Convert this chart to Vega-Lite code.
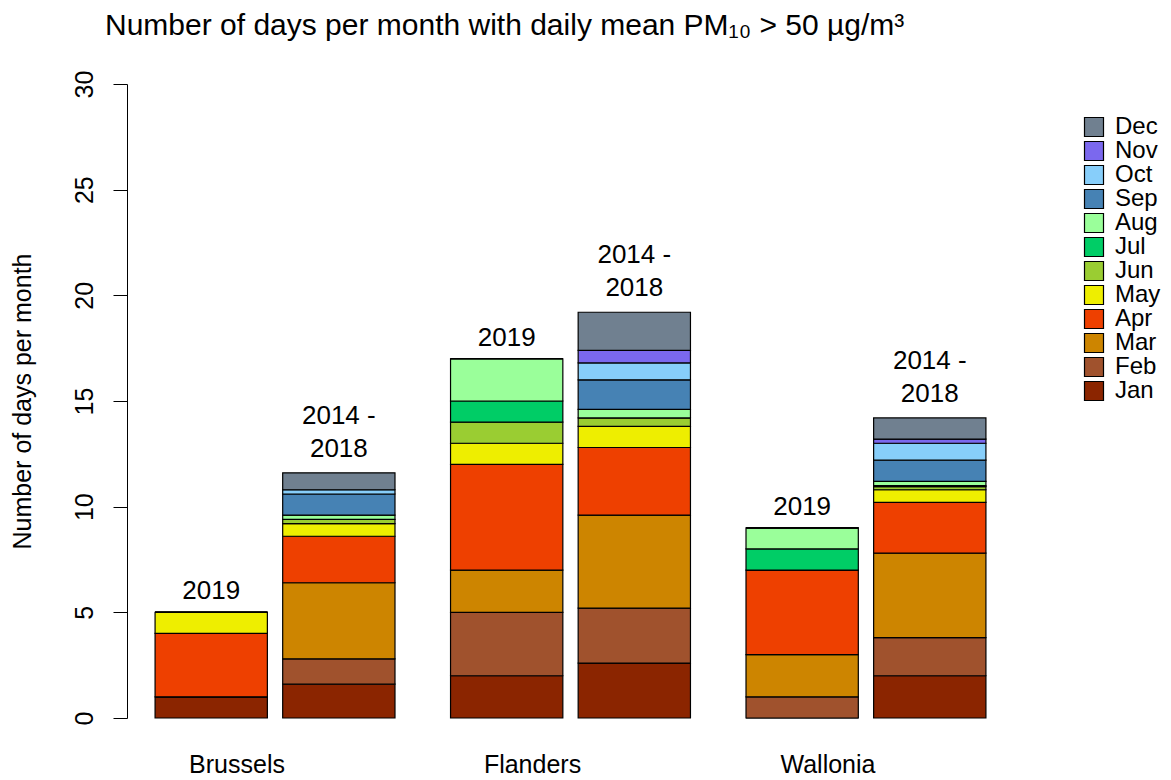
{
  "$schema": "https://vega.github.io/schema/vega-lite/v6.json",
  "width": 887,
  "height": 634,
  "autosize": "none",
  "padding": {"left": 127, "top": 84, "right": 157, "bottom": 62},
  "background": "white",
  "config": {"view": {"stroke": null}, "font": "Liberation Sans"},
  "title": {
    "text": "Number of days per month with daily mean PM₁₀ > 50 µg/m³",
    "anchor": "start",
    "frame": "group",
    "dx": -22,
    "offset": 5,
    "baseline": "alphabetic",
    "fontSize": 30,
    "font": "Liberation Sans",
    "fontWeight": "normal",
    "color": "#000"
  },
  "data": {
    "values": [
      {"region": "Brussels", "period": "2019", "month": "Jan", "m": 1, "days": 1},
      {"region": "Brussels", "period": "2019", "month": "Feb", "m": 2, "days": 0},
      {"region": "Brussels", "period": "2019", "month": "Mar", "m": 3, "days": 0},
      {"region": "Brussels", "period": "2019", "month": "Apr", "m": 4, "days": 3},
      {"region": "Brussels", "period": "2019", "month": "May", "m": 5, "days": 1},
      {"region": "Brussels", "period": "2019", "month": "Jun", "m": 6, "days": 0},
      {"region": "Brussels", "period": "2019", "month": "Jul", "m": 7, "days": 0},
      {"region": "Brussels", "period": "2019", "month": "Aug", "m": 8, "days": 0},
      {"region": "Brussels", "period": "2019", "month": "Sep", "m": 9, "days": 0},
      {"region": "Brussels", "period": "2019", "month": "Oct", "m": 10, "days": 0},
      {"region": "Brussels", "period": "2019", "month": "Nov", "m": 11, "days": 0},
      {"region": "Brussels", "period": "2019", "month": "Dec", "m": 12, "days": 0},
      {"region": "Brussels", "period": "2014 -\n2018", "month": "Jan", "m": 1, "days": 1.6},
      {"region": "Brussels", "period": "2014 -\n2018", "month": "Feb", "m": 2, "days": 1.2},
      {"region": "Brussels", "period": "2014 -\n2018", "month": "Mar", "m": 3, "days": 3.6},
      {"region": "Brussels", "period": "2014 -\n2018", "month": "Apr", "m": 4, "days": 2.2},
      {"region": "Brussels", "period": "2014 -\n2018", "month": "May", "m": 5, "days": 0.6},
      {"region": "Brussels", "period": "2014 -\n2018", "month": "Jun", "m": 6, "days": 0.2},
      {"region": "Brussels", "period": "2014 -\n2018", "month": "Jul", "m": 7, "days": 0},
      {"region": "Brussels", "period": "2014 -\n2018", "month": "Aug", "m": 8, "days": 0.2},
      {"region": "Brussels", "period": "2014 -\n2018", "month": "Sep", "m": 9, "days": 1.0},
      {"region": "Brussels", "period": "2014 -\n2018", "month": "Oct", "m": 10, "days": 0.2},
      {"region": "Brussels", "period": "2014 -\n2018", "month": "Nov", "m": 11, "days": 0},
      {"region": "Brussels", "period": "2014 -\n2018", "month": "Dec", "m": 12, "days": 0.8},
      {"region": "Flanders", "period": "2019", "month": "Jan", "m": 1, "days": 2},
      {"region": "Flanders", "period": "2019", "month": "Feb", "m": 2, "days": 3},
      {"region": "Flanders", "period": "2019", "month": "Mar", "m": 3, "days": 2},
      {"region": "Flanders", "period": "2019", "month": "Apr", "m": 4, "days": 5},
      {"region": "Flanders", "period": "2019", "month": "May", "m": 5, "days": 1},
      {"region": "Flanders", "period": "2019", "month": "Jun", "m": 6, "days": 1},
      {"region": "Flanders", "period": "2019", "month": "Jul", "m": 7, "days": 1},
      {"region": "Flanders", "period": "2019", "month": "Aug", "m": 8, "days": 2},
      {"region": "Flanders", "period": "2019", "month": "Sep", "m": 9, "days": 0},
      {"region": "Flanders", "period": "2019", "month": "Oct", "m": 10, "days": 0},
      {"region": "Flanders", "period": "2019", "month": "Nov", "m": 11, "days": 0},
      {"region": "Flanders", "period": "2019", "month": "Dec", "m": 12, "days": 0},
      {"region": "Flanders", "period": "2014 -\n2018", "month": "Jan", "m": 1, "days": 2.6},
      {"region": "Flanders", "period": "2014 -\n2018", "month": "Feb", "m": 2, "days": 2.6},
      {"region": "Flanders", "period": "2014 -\n2018", "month": "Mar", "m": 3, "days": 4.4},
      {"region": "Flanders", "period": "2014 -\n2018", "month": "Apr", "m": 4, "days": 3.2},
      {"region": "Flanders", "period": "2014 -\n2018", "month": "May", "m": 5, "days": 1.0},
      {"region": "Flanders", "period": "2014 -\n2018", "month": "Jun", "m": 6, "days": 0.4},
      {"region": "Flanders", "period": "2014 -\n2018", "month": "Jul", "m": 7, "days": 0},
      {"region": "Flanders", "period": "2014 -\n2018", "month": "Aug", "m": 8, "days": 0.4},
      {"region": "Flanders", "period": "2014 -\n2018", "month": "Sep", "m": 9, "days": 1.4},
      {"region": "Flanders", "period": "2014 -\n2018", "month": "Oct", "m": 10, "days": 0.8},
      {"region": "Flanders", "period": "2014 -\n2018", "month": "Nov", "m": 11, "days": 0.6},
      {"region": "Flanders", "period": "2014 -\n2018", "month": "Dec", "m": 12, "days": 1.8},
      {"region": "Wallonia", "period": "2019", "month": "Jan", "m": 1, "days": 0},
      {"region": "Wallonia", "period": "2019", "month": "Feb", "m": 2, "days": 1},
      {"region": "Wallonia", "period": "2019", "month": "Mar", "m": 3, "days": 2},
      {"region": "Wallonia", "period": "2019", "month": "Apr", "m": 4, "days": 4},
      {"region": "Wallonia", "period": "2019", "month": "May", "m": 5, "days": 0},
      {"region": "Wallonia", "period": "2019", "month": "Jun", "m": 6, "days": 0},
      {"region": "Wallonia", "period": "2019", "month": "Jul", "m": 7, "days": 1},
      {"region": "Wallonia", "period": "2019", "month": "Aug", "m": 8, "days": 1},
      {"region": "Wallonia", "period": "2019", "month": "Sep", "m": 9, "days": 0},
      {"region": "Wallonia", "period": "2019", "month": "Oct", "m": 10, "days": 0},
      {"region": "Wallonia", "period": "2019", "month": "Nov", "m": 11, "days": 0},
      {"region": "Wallonia", "period": "2019", "month": "Dec", "m": 12, "days": 0},
      {"region": "Wallonia", "period": "2014 -\n2018", "month": "Jan", "m": 1, "days": 2.0},
      {"region": "Wallonia", "period": "2014 -\n2018", "month": "Feb", "m": 2, "days": 1.8},
      {"region": "Wallonia", "period": "2014 -\n2018", "month": "Mar", "m": 3, "days": 4.0},
      {"region": "Wallonia", "period": "2014 -\n2018", "month": "Apr", "m": 4, "days": 2.4},
      {"region": "Wallonia", "period": "2014 -\n2018", "month": "May", "m": 5, "days": 0.6},
      {"region": "Wallonia", "period": "2014 -\n2018", "month": "Jun", "m": 6, "days": 0.15},
      {"region": "Wallonia", "period": "2014 -\n2018", "month": "Jul", "m": 7, "days": 0.05},
      {"region": "Wallonia", "period": "2014 -\n2018", "month": "Aug", "m": 8, "days": 0.2},
      {"region": "Wallonia", "period": "2014 -\n2018", "month": "Sep", "m": 9, "days": 1.0},
      {"region": "Wallonia", "period": "2014 -\n2018", "month": "Oct", "m": 10, "days": 0.8},
      {"region": "Wallonia", "period": "2014 -\n2018", "month": "Nov", "m": 11, "days": 0.2},
      {"region": "Wallonia", "period": "2014 -\n2018", "month": "Dec", "m": 12, "days": 1.0}
    ]
  },
  "encoding": {
    "x": {
      "field": "region",
      "type": "nominal",
      "sort": ["Brussels", "Flanders", "Wallonia"],
      "scale": {"paddingInner": 0.188, "paddingOuter": 0.095},
      "axis": {
        "title": null,
        "domain": false,
        "ticks": false,
        "tickSize": 0,
        "labelAngle": 0,
        "labelOffset": -38,
        "labelPadding": 54,
        "labelBaseline": "alphabetic",
        "labelFontSize": 25,
        "labelFont": "Liberation Sans",
        "labelColor": "#000"
      }
    },
    "xOffset": {
      "field": "period",
      "type": "nominal",
      "sort": ["2019", "2014 -\n2018"],
      "scale": {"paddingInner": 0.12, "paddingOuter": 0}
    }
  },
  "layer": [
    {
      "mark": {"type": "bar", "stroke": "#000", "strokeWidth": 1.2, "opacity": 1},
      "encoding": {
        "y": {
          "field": "days",
          "type": "quantitative",
          "stack": "zero",
          "scale": {"domain": [0, 30], "nice": false},
          "axis": {
            "title": "Number of days per month",
            "titleFontSize": 25,
            "titleFont": "Liberation Sans",
            "titleFontWeight": "normal",
            "titleColor": "#000",
            "titlePadding": 37,
            "values": [0, 5, 10, 15, 20, 25, 30],
            "labelAngle": -90,
            "labelFontSize": 25,
            "labelFont": "Liberation Sans",
            "labelColor": "#000",
            "labelPadding": 16,
            "tickSize": 14,
            "tickColor": "#000",
            "domainColor": "#000",
            "grid": false
          }
        },
        "color": {
          "field": "month",
          "type": "nominal",
          "scale": {
            "domain": ["Dec", "Nov", "Oct", "Sep", "Aug", "Jul", "Jun", "May", "Apr", "Mar", "Feb", "Jan"],
            "range": ["#708090", "#7B68EE", "#87CEFA", "#4682B4", "#9AFF9A", "#00CD66", "#9ACD32", "#EEEE00", "#EE4000", "#CD8500", "#A0522D", "#8B2500"]
          },
          "legend": {
            "orient": "none",
            "legendX": 955,
            "legendY": 31,
            "title": null,
            "padding": 0,
            "symbolType": "square",
            "symbolSize": 361,
            "symbolStrokeColor": "#000",
            "symbolStrokeWidth": 1.2,
            "symbolOpacity": 1,
            "labelFontSize": 24,
            "labelFont": "Liberation Sans",
            "labelColor": "#000",
            "labelOffset": 9,
            "rowPadding": 0
          }
        },
        "order": {"field": "m", "type": "quantitative", "sort": "ascending"}
      }
    },
    {
      "transform": [{"filter": "datum.period == '2019'"}],
      "mark": {"type": "text", "baseline": "bottom", "dy": -8, "fontSize": 26, "font": "Liberation Sans", "color": "#000"},
      "encoding": {
        "y": {"aggregate": "sum", "field": "days", "type": "quantitative"},
        "text": {"field": "period", "type": "nominal"}
      }
    },
    {
      "transform": [{"filter": "datum.period != '2019'"}],
      "mark": {"type": "text", "baseline": "bottom", "dy": -44, "fontSize": 26, "font": "Liberation Sans", "lineBreak": "\n", "lineHeight": 33, "color": "#000"},
      "encoding": {
        "y": {"aggregate": "sum", "field": "days", "type": "quantitative"},
        "text": {"field": "period", "type": "nominal"}
      }
    }
  ]
}
